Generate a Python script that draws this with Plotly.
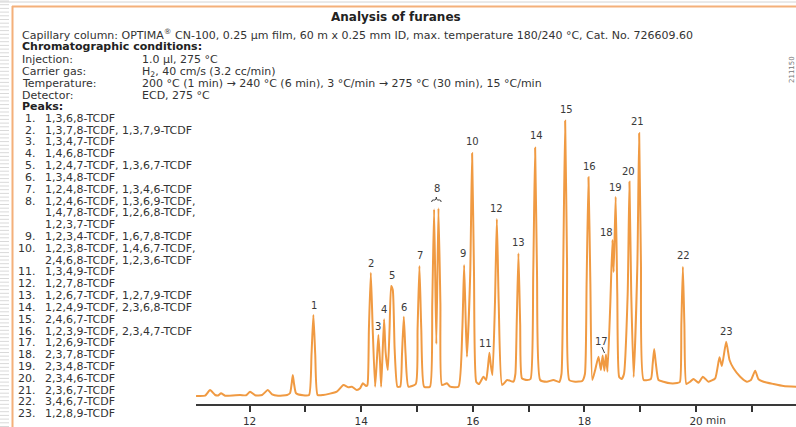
import plotly.graph_objects as go

# ---------------------------------------------------------------------------
# ECD trace: retention time (min), detector signal (arbitrary units)
# ---------------------------------------------------------------------------
trace_points = [
    (11.041, 8.0), (11.203, 8.3), (11.292, 14.0), (11.382, 9.0), (11.435, 8.5),
    (11.489, 10.7), (11.561, 8.3), (11.830, 9.0), (11.937, 8.7), (12.009, 12.3),
    (12.099, 8.7), (12.224, 9.0), (12.326, 14.0), (12.403, 9.7), (12.511, 8.3),
    (12.672, 9.0), (12.726, 11.0), (12.753, 20.0), (12.774, 29.0), (12.797, 20.0),
    (12.833, 10.7), (12.959, 8.7), (13.066, 9.0), (13.110, 50.0), (13.143, 89.0),
    (13.176, 50.0), (13.219, 9.0), (13.317, 9.0), (13.563, 12.3), (13.681, 19.0),
    (13.771, 16.7), (13.832, 17.3), (13.921, 14.0), (13.980, 15.7), (14.029, 20.7),
    (14.088, 18.0), (14.112, 19.0), (14.138, 75.0), (14.172, 131.3), (14.206, 75.0),
    (14.249, 17.3), (14.279, 42.0), (14.308, 69.0), (14.337, 42.0), (14.357, 17.3),
    (14.384, 52.0), (14.410, 84.7), (14.437, 52.0), (14.477, 34.0), (14.508, 75.0),
    (14.536, 118.0), (14.566, 114.0), (14.599, 55.0), (14.649, 17.3), (14.700, 17.5),
    (14.731, 50.0), (14.763, 87.3), (14.795, 50.0), (14.846, 17.3), (14.978, 20.0),
    (15.010, 75.0), (15.043, 138.0), (15.076, 75.0), (15.127, 17.3), (15.232, 17.3),
    (15.273, 100.0), (15.306, 194.7), (15.346, 60.0), (15.384, 195.7), (15.419, 100.0),
    (15.447, 19.0), (15.534, 20.7), (15.593, 17.3), (15.742, 17.3), (15.812, 75.0),
    (15.844, 139.0), (15.874, 80.0), (15.895, 47.3), (15.953, 130.0), (15.987, 250.7),
    (16.021, 130.0), (16.062, 22.0), (16.113, 20.0), (16.190, 27.3), (16.238, 24.0),
    (16.272, 38.0), (16.297, 51.3), (16.324, 38.0), (16.352, 29.0), (16.396, 100.0),
    (16.430, 185.0), (16.464, 100.0), (16.525, 19.0), (16.615, 24.0), (16.728, 22.3),
    (16.762, 30.0), (16.786, 80.0), (16.817, 150.7), (16.848, 80.0), (16.880, 25.7),
    (16.968, 24.0), (17.034, 25.0), (17.082, 130.0), (17.116, 256.3), (17.150, 130.0),
    (17.206, 24.0), (17.326, 22.3), (17.444, 24.0), (17.547, 22.0), (17.588, 30.0),
    (17.620, 140.0), (17.654, 283.3), (17.688, 140.0), (17.728, 24.0), (17.833, 22.3),
    (17.959, 23.0), (18.008, 30.0), (18.038, 120.0), (18.072, 226.7), (18.106, 120.0),
    (18.140, 24.0), (18.192, 34.0), (18.251, 47.3), (18.294, 34.0), (18.326, 48.5),
    (18.357, 33.3), (18.385, 49.5), (18.412, 32.3), (18.461, 97.0), (18.502, 164.0),
    (18.523, 132.0), (18.559, 207.3), (18.588, 110.0), (18.622, 27.0), (18.667, 25.0),
    (18.708, 30.0), (18.774, 110.0), (18.806, 222.3), (18.838, 110.0), (18.882, 27.0),
    (18.948, 140.0), (18.980, 270.7), (19.012, 140.0), (19.061, 24.0), (19.190, 25.0),
    (19.222, 40.0), (19.249, 55.0), (19.280, 40.0), (19.326, 24.0), (19.416, 22.3),
    (19.536, 20.7), (19.661, 21.0), (19.710, 22.0), (19.736, 80.0), (19.763, 137.3),
    (19.790, 80.0), (19.826, 20.0), (19.894, 22.3), (19.953, 25.0), (20.043, 21.3),
    (20.122, 27.3), (20.222, 22.3), (20.342, 25.7), (20.419, 46.7), (20.462, 38.0),
    (20.539, 62.3), (20.599, 44.0), (20.670, 35.7), (20.790, 27.3), (20.910, 22.3),
    (20.982, 24.0), (21.059, 33.3), (21.118, 24.7), (21.208, 22.3), (21.387, 20.0),
    (21.566, 18.0), (21.794, 17.3),
]
time_min = [p[0] for p in trace_points]
signal = [p[1] for p in trace_points]

# Peak numbers and where they are printed (time, signal)
peak_labels = [str(i) for i in range(1, 24)]
label_time = [13.156, 14.177, 14.308, 14.416, 14.548, 14.769, 15.056, 15.355,
              15.821, 15.987, 16.220, 16.430, 16.817, 17.147, 17.672, 18.084,
              18.312, 18.389, 18.563, 18.796, 18.957, 19.774, 20.552]
label_signal = [99.0, 140.7, 78.0, 95.0, 128.3, 96.7, 149.0, 215.7,
                150.7, 263.0, 60.7, 195.7, 161.3, 268.3, 295.0, 238.0,
                62.3, 171.7, 216.7, 232.7, 282.7, 148.7, 73.0]

# Peak identification (continuation lines listed separately)
peak_names = [
    ["1,3,6,8-TCDF"],
    ["1,3,7,8-TCDF, 1,3,7,9-TCDF"],
    ["1,3,4,7-TCDF"],
    ["1,4,6,8-TCDF"],
    ["1,2,4,7-TCDF, 1,3,6,7-TCDF"],
    ["1,3,4,8-TCDF"],
    ["1,2,4,8-TCDF, 1,3,4,6-TCDF"],
    ["1,2,4,6-TCDF, 1,3,6,9-TCDF,", "1,4,7,8-TCDF, 1,2,6,8-TCDF,", "1,2,3,7-TCDF"],
    ["1,2,3,4-TCDF, 1,6,7,8-TCDF"],
    ["1,2,3,8-TCDF, 1,4,6,7-TCDF,", "2,4,6,8-TCDF, 1,2,3,6-TCDF"],
    ["1,3,4,9-TCDF"],
    ["1,2,7,8-TCDF"],
    ["1,2,6,7-TCDF, 1,2,7,9-TCDF"],
    ["1,2,4,9-TCDF, 2,3,6,8-TCDF"],
    ["2,4,6,7-TCDF"],
    ["1,2,3,9-TCDF, 2,3,4,7-TCDF"],
    ["1,2,6,9-TCDF"],
    ["2,3,7,8-TCDF"],
    ["2,3,4,8-TCDF"],
    ["2,3,4,6-TCDF"],
    ["2,3,6,7-TCDF"],
    ["3,4,6,7-TCDF"],
    ["1,2,8,9-TCDF"],
]

condition_keys = ["Injection:", "Carrier gas:", "Temperature:", "Detector:"]
condition_values = [
    "1.0 µl, 275 °C",
    "H<sub>2</sub>, 40 cm/s (3.2 cc/min)",
    "200 °C (1 min) → 240 °C (6 min), 3 °C/min → 275 °C (30 min), 15 °C/min",
    "ECD, 275 °C",
]

tick_values = [12, 14, 16, 18, 20]
tick_text = ["12", "14", "16", "18", "20"]

# ---------------------------------------------------------------------------
W, H = 796, 427
ML, MR, MT, MB = 196, 0, 100, 23
PW, PH = W - ML - MR, H - MT - MB

FONT = "DejaVu Sans"
TXT = "#333333"
ORANGE = "#F09A42"


def fx(x):
    """pixel column -> paper x"""
    return (x - ML) / PW


def fy(y):
    """pixel row (from top) -> paper y"""
    return (H - MB - y) / PH


fig = go.Figure()
fig.add_trace(go.Scatter(
    x=time_min, y=signal, mode="lines",
    line=dict(color=ORANGE, width=2, shape="spline", smoothing=0.5),
    hoverinfo="skip", showlegend=False,
))

annotations = []


def text(x, y, s, size=11, bold=False, anchor="left", color=TXT):
    annotations.append(dict(
        x=fx(x), y=fy(y), xref="paper", yref="paper", showarrow=False,
        text=f"<b>{s}</b>" if bold else s, xanchor=anchor, yanchor="middle",
        font=dict(family=FONT, size=size, color=color),
    ))


text(396, 17, "Analysis of furanes", size=12, bold=True, anchor="center", color="#222222")
text(20, 35, "Capillary column: OPTIMA<sup>®</sup> CN-100, 0.25 µm film, 60 m x 0.25 mm ID, "
             "max. temperature 180/240 °C, Cat. No. 726609.60")
text(20, 47, "Chromatographic conditions:", bold=True, color="#222222")
for k, (key, val) in enumerate(zip(condition_keys, condition_values)):
    y = 59.7 + 11.8 * k
    text(20, y, key)
    text(140, y, val)
text(20, 106, "Peaks:", bold=True, color="#222222")

row = 0
for i, lines in enumerate(peak_names, start=1):
    for j, line in enumerate(lines):
        y = 118.3 + 11.82 * row
        if j == 0:
            text(38, y, f"{i}.", anchor="right")
        text(43, y, line)
        row += 1

# figure number, printed sideways at the right edge
annotations.append(dict(
    x=fx(792), y=fy(70), xref="paper", yref="paper", showarrow=False,
    text="211150", textangle=-90, font=dict(family=FONT, size=7, color="#777777"),
    xanchor="center", yanchor="middle",
))

# peak numbers
for lab, t, s in zip(peak_labels, label_time, label_signal):
    annotations.append(dict(
        x=t, y=s, xref="x", yref="y", showarrow=False, text=lab,
        xanchor="center", yanchor="middle",
        font=dict(family=FONT, size=10, color="#3a3a3a"),
    ))

# unit after the last labelled tick
annotations.append(dict(
    x=20, y=fy(420), xref="x", yref="paper", showarrow=False, text="min",
    xanchor="left", yanchor="middle", xshift=8,
    font=dict(family=FONT, size=10.5, color=TXT),
))

shapes = []
# striped page edge on the far left
y = 1.0
while y < H:
    shapes.append(dict(type="line", xref="paper", yref="paper",
                       x0=fx(0), x1=fx(9), y0=fy(y), y1=fy(y),
                       line=dict(color="#d9d9d9", width=1)))
    y += 3.7
# light rule at the very top and the orange frame
shapes.append(dict(type="line", xref="paper", yref="paper",
                   x0=fx(0), x1=fx(W), y0=fy(2), y1=fy(2),
                   line=dict(color="#d4d4d4", width=1)))
shapes.append(dict(type="line", xref="paper", yref="paper",
                   x0=fx(12), x1=fx(W), y0=fy(6.5), y1=fy(6.5),
                   line=dict(color="#F4B07A", width=2)))
shapes.append(dict(type="line", xref="paper", yref="paper",
                   x0=fx(12.5), x1=fx(12.5), y0=fy(6), y1=fy(H),
                   line=dict(color="#F4B07A", width=2)))
# brace over the peak-8 pair
shapes.append(dict(
    type="path", xref="x", yref="y",
    path="M 15.262,202 Q 15.262,204 15.29,204 L 15.32,204 Q 15.346,204 15.346,207 "
         "Q 15.346,204 15.372,204 L 15.404,204 Q 15.432,204 15.432,202",
    line=dict(color="#3a3a3a", width=1),
))
# pointer from label 17 to its peak group
shapes.append(dict(type="line", xref="x", yref="y",
                   x0=18.312, y0=57, x1=18.360, y1=51,
                   line=dict(color="#3a3a3a", width=1)))

fig.update_layout(
    width=W, height=H, autosize=False,
    margin=dict(l=ML, r=MR, t=MT, b=MB, pad=0),
    paper_bgcolor="white", plot_bgcolor="white",
    xaxis=dict(
        range=[11.04, 21.79], tickmode="array", tickvals=tick_values, ticktext=tick_text,
        ticks="outside", ticklen=6, tickwidth=2, tickcolor="#333333",
        minor=dict(dtick=1, tick0=0, ticks="outside", ticklen=6, tickwidth=2,
                   tickcolor="#333333", showgrid=False),
        showline=True, linecolor="#3a3a3a", linewidth=2,
        showgrid=False, zeroline=False,
        tickfont=dict(family=FONT, size=10.5, color=TXT),
    ),
    yaxis=dict(range=[0, PH], visible=False, showgrid=False, zeroline=False),
    annotations=annotations,
    shapes=shapes,
    showlegend=False,
)

fig.write_html("out.html")
